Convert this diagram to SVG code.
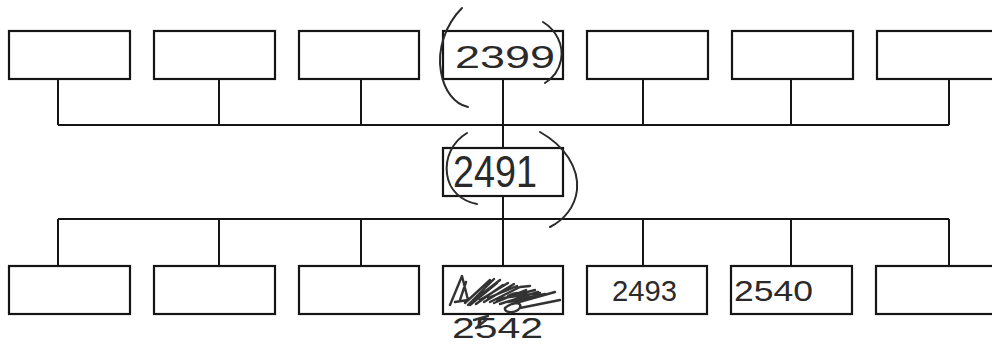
<svg xmlns="http://www.w3.org/2000/svg" width="992" height="345" viewBox="0 0 992 345">
<style>
.box{fill:none;stroke:#151515;stroke-width:2.2}
.con{fill:none;stroke:#151515;stroke-width:2}
.hw{font-family:"Liberation Sans","DejaVu Sans",sans-serif;fill:#2a2a2a}
.pen{fill:none;stroke:#2a2a2a;stroke-width:2;stroke-linecap:round}
.scr{fill:none;stroke:#333;stroke-width:2.4;stroke-linecap:round;stroke-linejoin:round}
</style>
<rect width="992" height="345" fill="#fff"/>
<g id="connectors">
<path class="con" d="M58 125H949M58 79V125M219 79V125M361 79V125M503 79V148M643 79V125M791 79V125M949 79V125"/>
<path class="con" d="M503 196V266M58 219H949M58 219V266M219 219V266M361 219V266M643 219V266M791 219V266M949 219V266"/>
</g>
<g id="top1"><rect class="box" x="9" y="31" width="121" height="48"/></g>
<g id="top2"><rect class="box" x="154" y="31" width="121" height="48"/></g>
<g id="top3"><rect class="box" x="299" y="31" width="120" height="48"/></g>
<g id="top4"><rect class="box" x="443" y="31" width="120" height="48"/>
<text class="hw" x="455" y="68" font-size="32" textLength="100" lengthAdjust="spacingAndGlyphs">2399</text>
<path class="pen" d="M462 8C445 25 437 50 441 72C444 90 454 104 468 107"/>
<path class="pen" d="M543 22C556 30 564 45 561 60C559 70 553 78 545 83"/></g>
<g id="top5"><rect class="box" x="587" y="31" width="121" height="48"/></g>
<g id="top6"><rect class="box" x="732" y="31" width="121" height="48"/></g>
<g id="top7"><rect class="box" x="877" y="31" width="130" height="48"/></g>
<g id="mid"><rect class="box" x="443" y="148" width="120" height="48"/>
<text class="hw" x="453" y="187" font-size="44" textLength="84" lengthAdjust="spacingAndGlyphs">2491</text>
<path class="pen" d="M467 133C452 142 445 158 447 174C449 190 461 201 477 204"/>
<path class="pen" d="M540 132C565 146 579 168 577 190C575 207 564 220 550 227"/></g>
<g id="bot1"><rect class="box" x="9" y="266" width="121" height="48"/></g>
<g id="bot2"><rect class="box" x="154" y="266" width="121" height="48"/></g>
<g id="bot3"><rect class="box" x="299" y="266" width="120" height="48"/></g>
<g id="bot4"><rect class="box" x="443" y="266" width="120" height="48"/>
<path class="scr" d="M450 305L462 276L468 300L455 302M460 300L466 282M465 303L490 280M468 305L494 279M470 305L497 283M474 300L500 280M476 304L503 285M480 300L508 283M484 302L514 284M488 298L517 286M490 302L520 287L530 286M494 303L526 290M497 300L535 290M500 304L538 292M503 298L540 293M508 302L545 294M512 304L555 292M520 308L560 300M505 308C515 300 525 303 518 310C512 314 504 312 505 308M508 296C518 290 528 294 520 300"/>
<text class="hw" x="452" y="338" font-size="29" textLength="91" lengthAdjust="spacingAndGlyphs">2542</text>
<path class="scr" d="M474 320L488 316M476 328L486 320"/></g>
<g id="bot5"><rect class="box" x="587" y="266" width="120" height="48"/>
<text class="hw" x="612" y="301" font-size="30" textLength="65" lengthAdjust="spacingAndGlyphs">2493</text></g>
<g id="bot6"><rect class="box" x="731" y="266" width="121" height="48"/>
<text class="hw" x="734" y="301" font-size="30" textLength="79" lengthAdjust="spacingAndGlyphs">2540</text></g>
<g id="bot7"><rect class="box" x="876" y="266" width="130" height="48"/></g>
</svg>
